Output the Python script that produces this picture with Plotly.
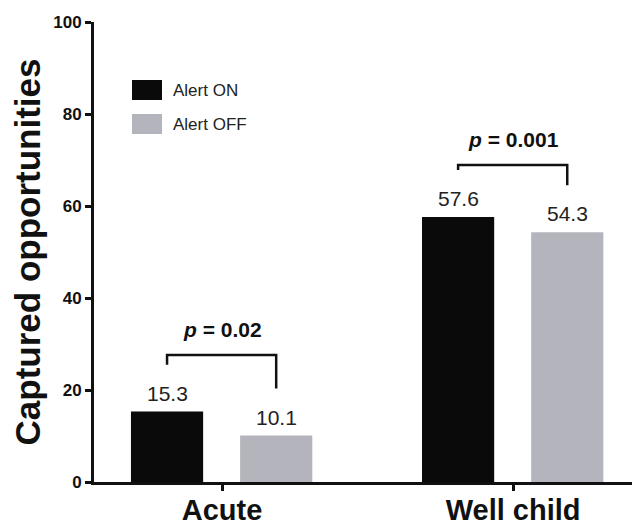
import plotly.graph_objects as go

CATEGORIES = ["Acute", "Well child"]
SERIES = ["Alert ON", "Alert OFF"]
ALERT_ON = [15.3, 57.6]
ALERT_OFF = [10.1, 54.3]
P_LABELS = ["0.02", "0.001"]
Y_TICKS = [0, 20, 40, 60, 80, 100]
COLORS = ["#0a0a0a", "#b4b4bc"]

FONT = "Liberation Sans, Arial, Helvetica, sans-serif"

# page places the figure at (8, 8) because of the default body margin
OX, OY = 8, 8
W, H = 632, 517
ML, MR, MT, MB = 86, 0, 14, 43
PW, PH = W - ML - MR, H - MT - MB

def px_x(px):
    return (px - OX - ML) / PW

def px_y(py):
    return (H - MB - (py - OY)) / PH

BAR_W = 0.248
OFFSETS = [-0.313, 0.062]
CENTERS = [o + BAR_W / 2 for o in OFFSETS]

fig = go.Figure()
for name, vals, col, off in zip(SERIES, [ALERT_ON, ALERT_OFF], COLORS, OFFSETS):
    fig.add_trace(go.Bar(
        x=CATEGORIES, y=vals, name=name, marker=dict(color=col, line=dict(width=0)),
        width=BAR_W, offset=off, showlegend=False,
    ))

annotations = []
shapes = []
# value labels
for vals, c in zip([ALERT_ON, ALERT_OFF], CENTERS):
    for i, v in enumerate(vals):
        annotations.append(dict(
            x=i + c, y=v, xref="x", yref="y", text=f"{v:.1f}", showarrow=False,
            yanchor="bottom", yshift=5, font=dict(family=FONT, size=21, color="#222222"),
        ))

# significance brackets
BRACKET_TOP = [27.6, 68.9]
LEG_GAP = 10.2
for i, (p, top) in enumerate(zip(P_LABELS, BRACKET_TOP)):
    x0 = i + CENTERS[0]
    x1 = i + CENTERS[1]
    y0 = ALERT_ON[i] + LEG_GAP
    y1 = ALERT_OFF[i] + LEG_GAP
    shapes.append(dict(
        type="path", xref="x", yref="y",
        path=f"M {x0} {y0} L {x0} {top} L {x1} {top} L {x1} {y1}",
        line=dict(color="#111111", width=2.5),
    ))
    annotations.append(dict(
        x=i, y=top, xref="x", yref="y", text=f"<b><i>p</i> = {p}</b>", showarrow=False,
        yanchor="bottom", yshift=12, font=dict(family=FONT, size=21, color="#111111"),
    ))

# legend (manual, to reproduce the wide swatches)
LEG_ROWS = [(80, 100), (114, 134)]
for name, col, (t, b) in zip(SERIES, COLORS, LEG_ROWS):
    shapes.append(dict(
        type="rect", xref="paper", yref="paper",
        x0=px_x(132), x1=px_x(162), y0=px_y(b), y1=px_y(t),
        fillcolor=col, line=dict(width=0),
    ))
    annotations.append(dict(
        x=px_x(171), y=px_y((t + b) / 2), xref="paper", yref="paper", text=name,
        showarrow=False, xanchor="left", yanchor="middle",
        font=dict(family=FONT, size=17, color="#222222"),
    ))

fig.update_layout(
    width=W, height=H,
    margin=dict(l=ML, r=MR, t=MT, b=MB, autoexpand=False),
    paper_bgcolor="white", plot_bgcolor="white",
    showlegend=False,
    annotations=annotations, shapes=shapes,
    xaxis=dict(
        type="category", range=[-0.44, 1.436],
        showline=True, linecolor="#111111", linewidth=3,
        ticks="outside", ticklen=6, tickwidth=2.5, tickcolor="#111111",
        ticklabelstandoff=-6,
        tickfont=dict(family=FONT, size=29, color="#111111", weight="bold"),
        showgrid=False, zeroline=False, fixedrange=True, automargin=False,
    ),
    yaxis=dict(
        range=[0, 100], tickvals=Y_TICKS,
        showline=True, linecolor="#111111", linewidth=3,
        ticks="outside", ticklen=6, tickwidth=3, tickcolor="#111111",
        tickfont=dict(family=FONT, size=17, color="#111111", weight="bold"),
        showgrid=False, zeroline=False, automargin=False,
        title=dict(text="Captured opportunities", standoff=12,
                   font=dict(family=FONT, size=35, color="#111111", weight="bold")),
    ),
)

fig.write_html("out.html")
